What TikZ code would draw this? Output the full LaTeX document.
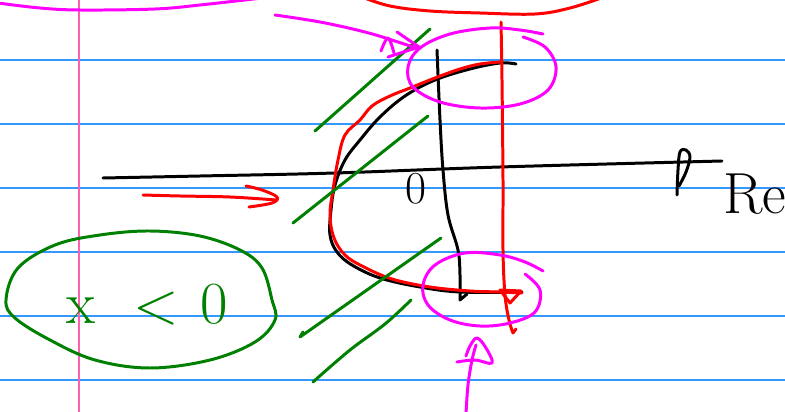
\documentclass[tikz,border=0pt]{standalone}
\usepackage{fontspec}
\definecolor{papelLinea}{HTML}{3399FF}
\definecolor{papelMargen}{HTML}{FF5FAF}
\definecolor{tintaRoja}{HTML}{FF0000}
\definecolor{tintaVerde}{HTML}{008000}
\definecolor{tintaMagenta}{HTML}{FF00FF}
\usepackage{tikz}
\usetikzlibrary{
	arrows.meta,
	positioning
}
\tikzset{
	renglon/.style={
		papelLinea,
		line width=0.9pt
	},
	margen/.style={
		papelMargen,
		line width=0.9pt
	},
	trazo/.style={
		line width=1.7pt,
		line cap=round,
		line join=round
	},
	trazoNegro/.style={trazo, black},
	trazoRojo/.style={trazo, tintaRoja},
	trazoVerde/.style={trazo, tintaVerde},
	trazoMagenta/.style={trazo, tintaMagenta},
	mano/.style={smooth, tension=0.6},
	rotulo/.style={inner sep=0pt, font=\fontsize{26}{28}\selectfont}
}

\begin{document}
\begin{tikzpicture}[x=0.02cm, y=-0.02cm]
		\useasboundingbox (0,0) rectangle (785,412);
		\clip (0,0) rectangle (785,412);
		\fill[white] (0,0) rectangle (785,412);
		\foreach \renglonY in {60,124,188,252,316,380}
			\draw[renglon] (0,\renglonY) -- (785,\renglonY);
		\draw[margen] (79,0) -- (79,412);
		\draw[trazoMagenta] plot[mano] coordinates {(-2,3) (40,8) (80,10) (155,9) (200,5) (262,-2)};
		\draw[trazoRojo] plot[mano] coordinates {(362,-3) (390,6) (430,11) (480,13) (535,14) (570,8) (604,-3)};
		\draw[trazoNegro] plot[mano] coordinates {(103,178) (200,176) (335,173) (500,167) (722,161)};
		\draw[trazoNegro] plot[mano] coordinates {(677,195) (678,170) (680,152) (686,150) (690,157) (686,172) (679,186)};
		\node[rotulo, font=\fontsize{33}{35}\selectfont, anchor=base west] (re) at (723,214) {Re};
		\node[rotulo, anchor=base] (cero) at (416,204) {0};
		\draw[trazoNegro] plot[mano] coordinates {(437,50) (440,120) (443,170) (448,215) (458,250) (460,275) (460,300)} -- (467,294);
		\draw[trazoNegro] plot[mano] coordinates {(516,64) (500,63) (470,69) (435,80) (405,96) (380,117) (360,140) (345,160) (335,185) (331,210) (330,235) (337,252) (352,265) (380,278) (420,287) (460,292) (522,292)};
		\draw[trazoRojo] plot[mano] coordinates {(500,62) (480,64) (460,69) (435,78) (410,88) (390,96) (372,106) (360,120) (345,135) (338,160) (333,190) (330,215) (334,238) (345,255) (362,266) (392,279) (430,287) (470,291) (500,292) (522,293)};
		\draw[trazoRojo] plot[mano] coordinates {(501,22) (502,80) (503,180) (503,250) (505,295) (509,320) (513,333)} -- (516,329);
		\draw[trazoRojo] (500,290) -- (521,291) -- (510,303) -- cycle;
		\draw[trazoVerde] (315,131) -- (430,29);
		\draw[trazoVerde] (293,223) -- (428,116);
		\draw[trazoVerde] (303,332) -- (300,337) -- (441,238);
		\draw[trazoVerde] plot[mano] coordinates {(313,382) (350,350) (385,324) (411,300)};
		\draw[trazoRojo] plot[mano] coordinates {(143,195) (180,196) (230,197) (276,200)};
		\draw[trazoRojo] plot[mano] coordinates {(246,186) (262,190) (277,197) (272,203) (249,207)};
		\draw[trazoMagenta] plot[mano] coordinates {(275,15) (320,22) (365,32) (398,42) (416,48)};
		\draw[trazoMagenta] (397,32) -- (419,47) -- (388,57);
		\draw[trazoMagenta] plot[mano] coordinates {(381,51) (388,38) (394,53)};
		\draw[trazoMagenta] plot[mano] coordinates {(523,37) (545,47) (556,67) (548,90) (520,104) (480,108) (440,102) (413,87) (408,67) (420,48) (450,34) (490,28) (520,30) (543,34)};
		\draw[trazoMagenta] plot[mano] coordinates {(525,274) (540,290) (535,312) (510,323) (480,326) (450,320) (428,305) (423,285) (435,265) (465,253) (500,255) (525,262) (543,271)};
		\draw[trazoMagenta] plot[mano] coordinates {(466,414) (468,385) (472,360) (476,345)};
		\draw[trazoMagenta] plot[mano] coordinates {(457,362) (475,360) (492,363) (486,348) (477,338) (470,346) (466,356)};
		\draw[trazoVerde] plot[smooth cycle, tension=0.6] coordinates {(6,300) (18,268) (55,245) (100,235) (150,231) (200,236) (240,250) (262,268) (272,300) (275,320) (255,342) (210,360) (150,368) (95,360) (50,340) (15,318)};
		\node[rotulo, text=tintaVerde, font=\fontsize{34}{36}\selectfont] (condicion) at (147,305) {x\hspace{22pt}<\hspace{12pt}0};
	\end{tikzpicture}
\end{document}
